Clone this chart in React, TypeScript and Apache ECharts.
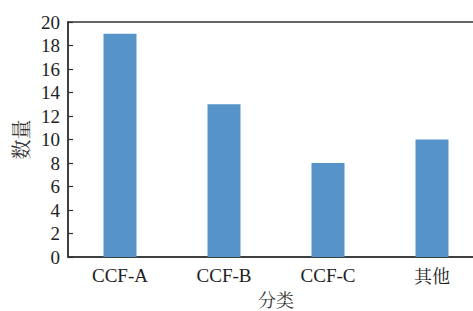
import React, { useEffect, useRef } from "react";
import * as echarts from "echarts";

const categories = ["CCF-A", "CCF-B", "CCF-C", "其他"];
const counts = [19, 13, 8, 10];
const yTicks = { min: 0, max: 20, interval: 2 };

const FONT = "Liberation Serif";
const CJK = "Noto Serif CJK SC";

export default function App() {
  const ref = useRef<HTMLDivElement>(null);
  useEffect(() => {
    const chart = echarts.init(ref.current!, null, { renderer: "svg" });
    chart.setOption({
      animation: false,
      backgroundColor: "#ffffff",
      grid: {
        left: 68,
        top: 22,
        width: 416,
        height: 235,
        outerBoundsMode: "none",
        containLabel: false,
        show: true,
        borderColor: "#333333",
        borderWidth: 1.5,
        backgroundColor: "transparent",
      },
      xAxis: {
        type: "category",
        data: categories,
        name: "分类",
        nameLocation: "middle",
        nameGap: 32,
        nameTextStyle: { fontFamily: CJK, fontSize: 18, color: "#333" },
        axisLine: { lineStyle: { color: "#333333", width: 1.5 } },
        axisTick: { show: false },
        axisLabel: {
          fontFamily: FONT,
          fontSize: 19,
          color: "#222",
          margin: 9,
          formatter: (v: string) => (/[\u4e00-\u9fff]/.test(v) ? "{c|" + v + "}" : v),
          rich: { c: { fontFamily: CJK, fontSize: 18, color: "#222" } },
        },
      },
      yAxis: {
        type: "value",
        min: yTicks.min,
        max: yTicks.max,
        interval: yTicks.interval,
        name: "数量",
        nameLocation: "middle",
        nameGap: 35,
        nameRotate: 90,
        nameTextStyle: { fontFamily: CJK, fontSize: 20, color: "#333" },
        axisLine: { show: true, lineStyle: { color: "#333333", width: 1.5 } },
        axisTick: { show: true, inside: true, length: 5, lineStyle: { color: "#333333", width: 1.2 } },
        splitLine: { show: false },
        axisLabel: { fontFamily: FONT, fontSize: 19, color: "#222", margin: 8 },
      },
      series: [
        {
          type: "bar",
          data: counts,
          barWidth: 33,
          itemStyle: { color: "#5593c9" },
        },
      ],
    });
    return () => chart.dispose();
  }, []);
  return <div ref={ref} style={{ width: 473, height: 311, position: "absolute", left: 0, top: 0 }} />;
}
